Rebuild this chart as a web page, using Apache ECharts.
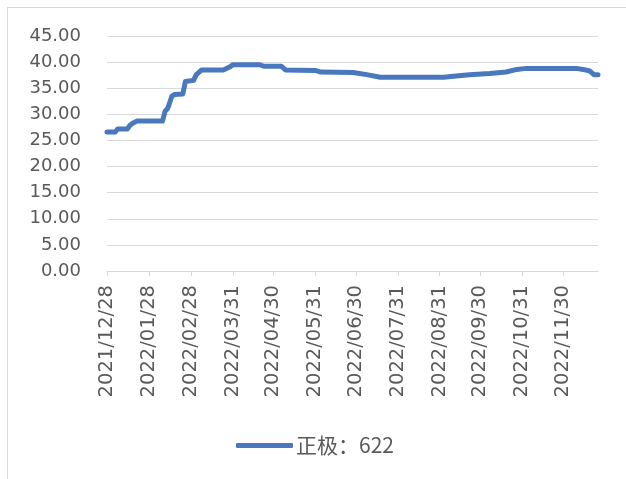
<!DOCTYPE html>
<html>
<head>
<meta charset="utf-8">
<script src="https://cdn.jsdelivr.net/npm/echarts@6/dist/echarts.min.js"></script>
<style>
  html, body { margin: 0; padding: 0; background: #fff; }
  #frame { position: absolute; left: 7px; top: 7px; width: 640px; height: 490px;
           border-top: 1px solid #d9d9d9; border-left: 1px solid #d9d9d9; }
  #chart { position: absolute; left: 0; top: 0; width: 626px; height: 479px; }
</style>
</head>
<body>
<div id="frame"></div>
<div id="chart"></div>
<script>
// Positive-electrode price series (正极：622), observations at change points
const seriesName = '正极：622';
const dates = [
  '2021-12-28', '2022-01-03', '2022-01-05', '2022-01-12', '2022-01-14', '2022-01-16',
  '2022-01-19', '2022-02-07', '2022-02-09', '2022-02-11', '2022-02-14', '2022-02-16',
  '2022-02-22', '2022-02-24', '2022-03-02', '2022-03-04', '2022-03-08', '2022-03-24',
  '2022-03-29', '2022-03-31', '2022-04-20', '2022-04-23', '2022-05-06', '2022-05-09',
  '2022-05-31', '2022-06-04', '2022-06-28', '2022-07-08', '2022-07-18', '2022-09-03',
  '2022-09-10', '2022-09-22', '2022-10-07', '2022-10-19', '2022-10-27', '2022-11-03',
  '2022-12-10', '2022-12-15', '2022-12-20', '2022-12-23', '2022-12-26'
];
const values = [
  26.6, 26.6, 27.2, 27.2, 27.9, 28.3,
  28.7, 28.7, 30.6, 31.2, 33.5, 33.8,
  33.9, 36.3, 36.5, 37.6, 38.5, 38.5,
  39.1, 39.5, 39.5, 39.2, 39.2, 38.5,
  38.4, 38.1, 38.0, 37.6, 37.1, 37.1,
  37.3, 37.6, 37.8, 38.1, 38.6, 38.8,
  38.8, 38.6, 38.3, 37.6, 37.6
];
// Dates shown on the horizontal axis
const tickDates = [
  '2021/12/28', '2022/01/28', '2022/02/28', '2022/03/31', '2022/04/30', '2022/05/31',
  '2022/06/30', '2022/07/31', '2022/08/31', '2022/09/30', '2022/10/31', '2022/11/30'
];
const axisStart = '2021-12-28';
const axisEnd = '2022-12-26';

const DAY = 86400000;
function toUTC(s) {
  const p = s.split(/[-\/]/).map(Number);
  return Date.UTC(p[0], p[1] - 1, p[2]);
}
const origin = toUTC(axisStart);
// day offset from the first date, used as the x coordinate
function toDay(s) { return Math.round((toUTC(s) - origin) / DAY); }
function pad(n) { return (n < 10 ? '0' : '') + n; }
function dayLabel(v) {
  const d = new Date(origin + Math.round(v) * DAY);
  return d.getUTCFullYear() + '/' + pad(d.getUTCMonth() + 1) + '/' + pad(d.getUTCDate());
}

const tickDays = tickDates.map(toDay);
const points = dates.map((d, i) => [toDay(d), values[i]]);

const chart = echarts.init(document.getElementById('chart'), null, { renderer: 'canvas' });
chart.setOption({
  backgroundColor: 'transparent',
  animation: false,
  grid: { left: 107, right: 28, top: 36, bottom: 208, containLabel: false },
  xAxis: {
    type: 'value',
    min: 0,
    max: toDay(axisEnd),
    axisLine: { show: true, lineStyle: { color: '#d9d9d9', width: 1 } },
    axisTick: { show: true, length: 5, lineStyle: { color: '#d9d9d9' }, customValues: tickDays },
    splitLine: { show: false },
    axisLabel: {
      customValues: tickDays,
      rotate: 90,
      margin: 14,
      color: '#595959',
      fontFamily: 'DejaVu Sans',
      fontSize: 19.5,
      formatter: (v) => dayLabel(v),
      hideOverlap: false,
      showMinLabel: true,
      showMaxLabel: true
    }
  },
  yAxis: {
    type: 'value',
    min: 0,
    max: 45,
    interval: 5,
    axisLine: { show: false },
    axisTick: { show: false },
    splitLine: { show: true, lineStyle: { color: '#d9d9d9', width: 1 } },
    axisLabel: {
      margin: 26,
      color: '#595959',
      fontFamily: 'DejaVu Sans',
      fontSize: 18,
      formatter: (v) => v.toFixed(2)
    }
  },
  legend: {
    left: 231,
    top: 430,
    icon: 'roundRect',
    itemWidth: 57,
    itemHeight: 5,
    itemGap: 10,
    textStyle: { color: '#595959', fontFamily: 'Noto Sans CJK SC', fontSize: 21, padding: [0, 0, 0, -2] },
    data: [seriesName]
  },
  series: [{
    name: seriesName,
    type: 'line',
    data: points,
    showSymbol: false,
    symbol: 'none',
    lineStyle: { color: '#4A78BE', width: 5, cap: 'round', join: 'round' },
    itemStyle: { color: '#4A78BE' }
  }]
});
</script>
</body>
</html>
